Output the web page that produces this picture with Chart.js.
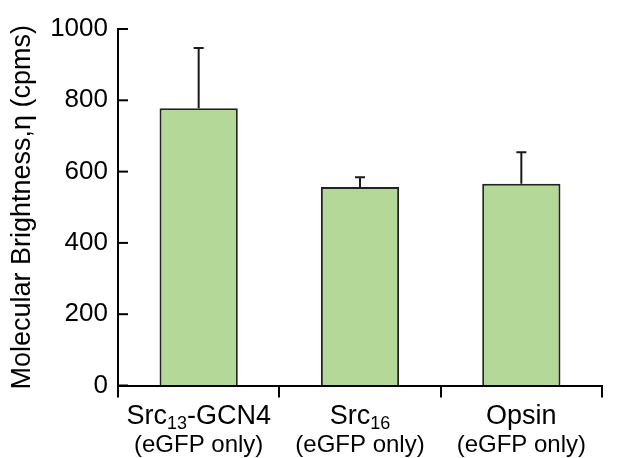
<!DOCTYPE html>
<html>
<head>
<meta charset="utf-8">
<script src="https://cdn.jsdelivr.net/npm/chart.js@4.4.0/dist/chart.umd.min.js"></script>
<style>
    html, body { margin: 0; padding: 0; background: #fff; }
    #wrap { width: 622px; height: 458px; }
</style>
</head>
<body>
<div id="wrap"><canvas id="chart" width="622" height="458"></canvas></div>
<script>
// data
const categories = ['Src', 'Src', 'Opsin'];
const subscripts = ['13', '16', ''];
const suffixes = ['-GCN4', '', ''];
const subtitles = ['(eGFP only)', '(eGFP only)', '(eGFP only)'];
const brightness = [778, 557, 566];
const errors = [169, 27, 88];
const yTicks = [0, 200, 400, 600, 800, 1000];

const FONT = '"Liberation Sans", Arial, sans-serif';
const labels = categories.map((c, i) => c + subscripts[i] + suffixes[i]);

// upper error bars, inward y ticks and rich category labels
const extras = {
    id: 'extras',
    afterDatasetsDraw(chart) {
        const ctx = chart.ctx;
        const y = chart.scales.y;
        const meta = chart.getDatasetMeta(0);
        ctx.save();
        ctx.strokeStyle = '#1a1a1a';
        ctx.lineWidth = 2;
        meta.data.forEach((bar, i) => {
            const top = y.getPixelForValue(brightness[i]);
            const end = y.getPixelForValue(brightness[i] + errors[i]);
            ctx.beginPath();
            ctx.moveTo(bar.x, top);
            ctx.lineTo(bar.x, end);
            ctx.moveTo(bar.x - 5, end);
            ctx.lineTo(bar.x + 5, end);
            ctx.stroke();
        });
        ctx.restore();
    },
    afterDraw(chart) {
        const ctx = chart.ctx;
        const x = chart.scales.x, y = chart.scales.y;
        ctx.save();
        ctx.strokeStyle = '#000';
        ctx.lineWidth = 2;
        yTicks.forEach(v => {
            const py = y.getPixelForValue(v);
            ctx.beginPath();
            ctx.moveTo(x.left, py);
            ctx.lineTo(x.left + 10, py);
            ctx.stroke();
        });

        ctx.fillStyle = '#000';
        ctx.textBaseline = 'alphabetic';
        categories.forEach((c, i) => {
            const cx = x.getPixelForValue(i);
            const mainFont = '27px ' + FONT, subFont = '18px ' + FONT;
            ctx.font = mainFont;
            const w1 = ctx.measureText(c).width;
            const w3 = ctx.measureText(suffixes[i]).width;
            ctx.font = subFont;
            const w2 = ctx.measureText(subscripts[i]).width;
            let px = cx - (w1 + w2 + w3) / 2;
            const base = 424;
            ctx.textAlign = 'left';
            ctx.font = mainFont;
            ctx.fillText(c, px, base);
            px += w1;
            ctx.font = subFont;
            ctx.fillText(subscripts[i], px, base + 5);
            px += w2;
            ctx.font = mainFont;
            ctx.fillText(suffixes[i], px, base);

            ctx.textAlign = 'center';
            ctx.font = '24px ' + FONT;
            ctx.fillText(subtitles[i], cx, 452);
        });
        ctx.restore();
    }
};

new Chart(document.getElementById('chart'), {
    type: 'bar',
    data: {
        labels: labels,
        datasets: [{
            data: brightness,
            backgroundColor: '#b3d897',
            borderColor: '#222',
            borderWidth: 2,
            borderSkipped: 'start',
            barPercentage: 0.97,
            categoryPercentage: 0.5,
        }]
    },
    options: {
        responsive: false,
        animation: false,
        layout: { padding: { top: 29, right: 20, left: 0, bottom: 0 } },
        plugins: {
            legend: { display: false },
            tooltip: { enabled: false },
        },
        scales: {
            x: {
                offset: true,
                grid: {
                    offset: true,
                    drawOnChartArea: false,
                    drawTicks: true,
                    tickLength: 12,
                    color: '#000',
                    lineWidth: 2,
                },
                border: { color: '#000', width: 2 },
                ticks: { display: false },
                afterFit(scale) { scale.height = 72.5; },
            },
            y: {
                min: 0,
                max: 1000,
                afterBuildTicks(scale) { scale.ticks = yTicks.map(v => ({ value: v })); },
                grid: { drawOnChartArea: false, drawTicks: false },
                border: { color: '#000', width: 2 },
                ticks: {
                    padding: 10,
                    color: '#000',
                    font: { family: FONT, size: 26 },
                    callback: (v) => String(v),
                },
                title: {
                    display: true,
                    text: 'Molecular Brightness,η (cpms)',
                    color: '#000',
                    font: { family: FONT, size: 27 },
                    padding: { top: 6, bottom: 0 },
                },
                afterFit(scale) { scale.width = 118; },
            },
        },
    },
    plugins: [extras],
});
</script>
</body>
</html>
